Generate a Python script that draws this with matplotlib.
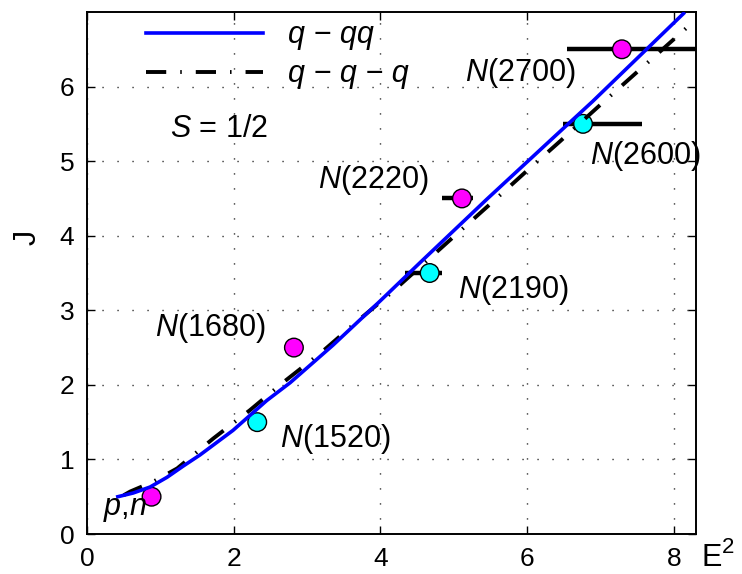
import matplotlib
matplotlib.use('Agg')
import matplotlib.pyplot as plt

# Schriften wie im MATLAB-Export (Helvetica -> Liberation Sans)
plt.rcParams['font.family'] = ['Liberation Sans', 'DejaVu Sans']
plt.rcParams['mathtext.fontset'] = 'custom'
plt.rcParams['mathtext.rm'] = 'Liberation Sans'
plt.rcParams['mathtext.it'] = 'Liberation Sans:italic'

# Messpunkte (E^2, J) mit horizontalen Fehlerbalken
e2 = [0.88, 2.32, 2.82, 4.67, 5.11, 6.76, 7.29]
j_val = [0.5, 1.5, 2.5, 3.5, 4.5, 5.5, 6.5]
err_lo = [0, 0, 0, 0.34, 0.27, 0.27, 0.75]
err_hi = [0, 0, 0, 0.17, 0.15, 0.80, 1.50]
colors = ['magenta', 'cyan', 'magenta', 'cyan', 'magenta', 'cyan', 'magenta']
names = ['p,n', 'N(1520)', 'N(1680)', 'N(2190)', 'N(2220)', 'N(2600)', 'N(2700)']

# Modellkurven
qqq_x = [0.42, 0.63, 0.86, 1.09, 1.31, 1.54, 1.99, 2.45, 2.77, 3.35, 3.99, 4.54, 5.45, 6.35, 6.89, 8.13]
qqq_y = [0.50, 0.55, 0.63, 0.76, 0.91, 1.06, 1.39, 1.79, 2.03, 2.53, 3.12, 3.64, 4.49, 5.31, 5.80, 6.98]
q3_x = [0.50, 0.59, 0.90, 1.23, 1.72, 2.22, 2.67, 3.20, 3.68, 4.13, 4.99, 5.49, 6.04, 6.44, 6.99, 8.30]
q3_y = [0.52, 0.57, 0.70, 0.88, 1.28, 1.66, 2.03, 2.44, 2.85, 3.22, 3.98, 4.42, 4.91, 5.26, 5.75, 6.90]

fig = plt.figure(figsize=(7.42, 5.74), dpi=100)
ax = fig.add_axes([87 / 742, 1 - 534 / 574, 609 / 742, 522 / 574])

ax.errorbar(e2, j_val, xerr=[err_lo, err_hi], fmt='none', ecolor='black',
            elinewidth=3.2, capsize=0, zorder=2)
ax.scatter(e2, j_val, s=180, c=colors, edgecolors='black', linewidths=1.0, zorder=3)

ax.plot(qqq_x, qqq_y, color='#0000ff', lw=2.6, label='q − qq', zorder=5)
ax.plot(q3_x, q3_y, color='black', lw=2.8, linestyle=(0, (5.2, 3.6, 0.4, 3.6)),
        label='q − q − q', zorder=4)

# Beschriftungen der Zustände
lab_pos = [(0.22, 0.25), (2.63, 1.16), (0.93, 2.66), (5.05, 3.16),
           (3.15, 4.64), (6.85, 4.96), (5.15, 6.08)]
for name, (tx, ty) in zip(names, lab_pos):
    if name == 'p,n':
        txt = '$p$,$n$'
    else:
        txt = '$N$' + name[1:]
    ax.text(tx, ty, txt, fontsize=22, ha='left', va='baseline', zorder=6, clip_on=False)

ax.text(1.13, 5.33, '$S$ = 1/2', fontsize=22, ha='left', va='baseline')

ax.set_xlim(0, 8.3)
ax.set_ylim(0, 7)
ax.set_xticks([0, 2, 4, 6, 8])
ax.set_yticks([0, 1, 2, 3, 4, 5, 6])
ax.tick_params(direction='in', length=6, width=1, top=True, right=True,
               labelsize=19, pad=9)
ax.grid(True, color='black', linestyle=(0, (0.8, 10)), lw=1.0)
for s in ax.spines.values():
    s.set_linewidth(1.4)

# Achsenbeschriftungen (E^2 rechts unten neben der Achse)
fig.text(702 / 742, 1 - 566 / 574, 'E', fontsize=22, ha='left', va='baseline')
fig.text(722 / 742, 1 - 553 / 574, '2', fontsize=16, ha='left', va='baseline')
fig.text(28 / 742, 1 - 237 / 574, 'J', fontsize=22, rotation=90, ha='center', va='center')

ax.legend(loc='center left', bbox_to_anchor=(0.097, 0.918), frameon=False,
          borderpad=0, borderaxespad=0, handlelength=3.83, handletextpad=0.82,
          labelspacing=0.3, prop={'family': 'Liberation Sans', 'style': 'italic', 'size': 22})

fig.savefig('out.png', dpi=100)
